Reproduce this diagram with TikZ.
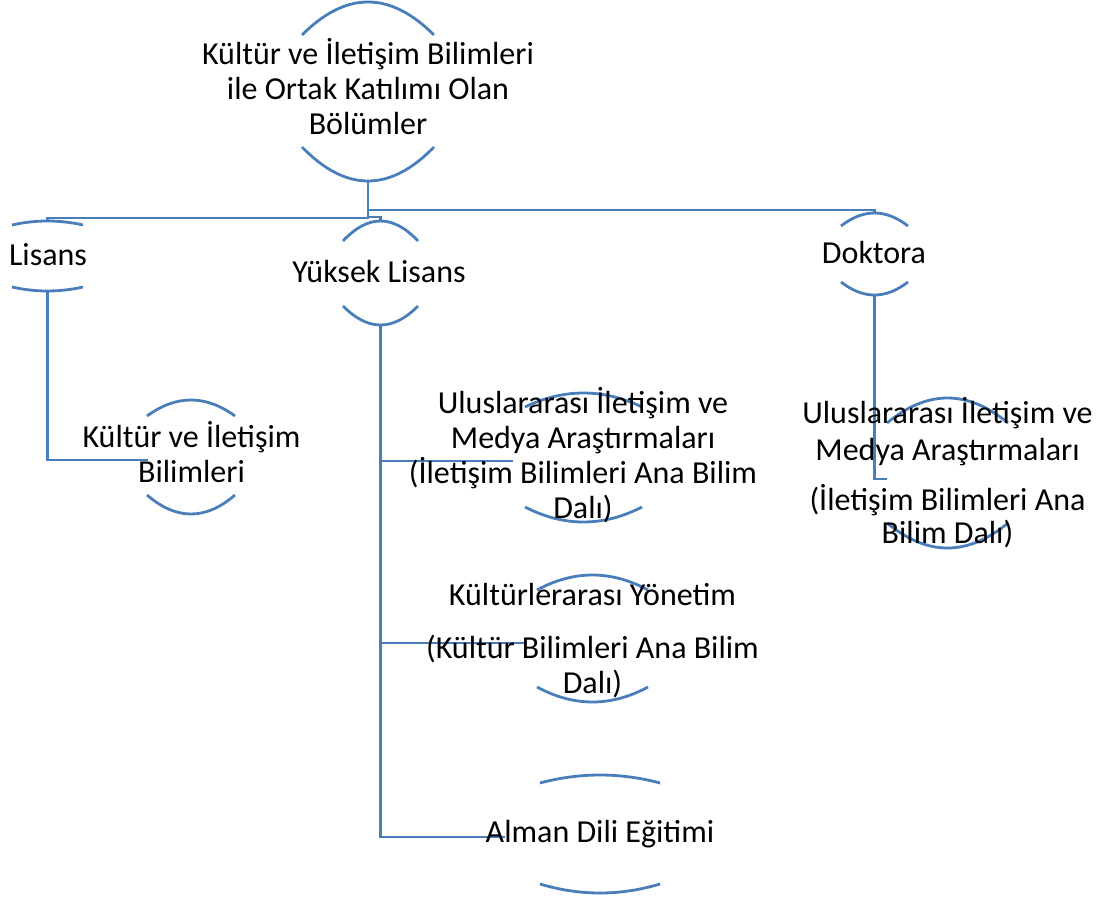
\documentclass[tikz,border=0pt]{standalone}
\usepackage{fontspec}
\setmainfont{Carlito}
\definecolor{arcblue}{RGB}{74,126,187}
\newcommand{\mlines}[1]{\vtop{\let\\\cr\baselineskip=35pt\lineskiplimit=-\maxdimen\lineskip=0pt\halign{\hfil##\hfil\cr#1\crcr}}}
% name, cx, half chord, top end y, top apex y, bottom end y, bottom low y
\newcommand{\nodearcs}[7]{%
  \draw[arcline] ({#2-#3},#4) .. controls ({#2-#3/3},{#4+4/3*(#5-#4)}) and ({#2+#3/3},{#4+4/3*(#5-#4)}) .. ({#2+#3},#4);
  \draw[arcline] ({#2-#3},#6) .. controls ({#2-#3/3},{#6+4/3*(#7-#6)}) and ({#2+#3/3},{#6+4/3*(#7-#6)}) .. ({#2+#3},#6);
  \coordinate (#1-t) at (#2,#5);
  \coordinate (#1-b) at (#2,#7);
}
\begin{document}
\begin{tikzpicture}[x=1pt,y=-1pt,
  arcline/.style={draw=arcblue,line width=2.8pt},
  conn/.style={draw=arcblue,line width=2.8pt},
  txt/.style={inner sep=0pt,anchor=base,text=black,font=\fontsize{32}{35}\selectfont}]
\useasboundingbox (0,0) rectangle (1111,899);
% arcs of the node shapes
\nodearcs{root}{368}{66}{35}{2}{147}{181}
\nodearcs{lis}{47.5}{35.5}{225}{221}{287}{291}
\nodearcs{yl}{380.5}{37.5}{241}{221}{306}{325}
\nodearcs{dok}{874.5}{33.5}{226}{213}{282}{295}
\nodearcs{kib}{191}{44}{416}{400}{495}{514}
\nodearcs{uima}{583.5}{58.5}{407}{393}{507}{522}
\nodearcs{ky}{592.5}{55.5}{590}{575}{687}{702}
\nodearcs{ade}{600}{60}{783}{775}{884}{893}
\nodearcs{duima}{947.5}{60.5}{423}{398}{523}{548}
% connector end points
\coordinate (kib-w) at (148,460);
\coordinate (uima-w) at (513,461);
\coordinate (ky-w) at (527,643);
\coordinate (ade-w) at (505,837);
\coordinate (duima-w) at (887,479);
% connectors
\draw[conn] (root-b) -- ++(0,37) -| (lis-t);
\draw[conn] (root-b) -- ++(0,36) -| (yl-t);
\draw[conn] (root-b) -- ++(0,29) -| (dok-t);
\draw[conn] (lis-b) |- (kib-w);
\draw[conn] (yl-b) |- (uima-w);
\draw[conn] (yl-b) |- (ky-w);
\draw[conn] (yl-b) |- (ade-w);
\draw[conn] (dok-b) |- (duima-w);
% texts
\node[txt] (root) at (368,65) {\mlines{Kültür ve İletişim Bilimleri\\ile Ortak Katılımı Olan\\Bölümler}};
\node[txt] (lis) at (48,265) {Lisans};
\node[txt] (yl) at (379,282) {Yüksek Lisans};
\node[txt] (dok) at (874,263) {Doktora};
\node[txt] (kib) at (191.5,447) {\mlines{Kültür ve İletişim\\Bilimleri}};
\node[txt] (uima) at (583,413) {\mlines{Uluslararası İletişim ve\\Medya Araştırmaları\\(İletişim Bilimleri Ana Bilim\\Dalı)}};
\node[txt] (ky) at (592.5,605) {\mlines{Kültürlerarası Yönetim\\\noalign{\vskip18pt}(Kültür Bilimleri Ana Bilim\\Dalı)}};
\node[txt] (ade) at (600,842) {Alman Dili Eğitimi};
\node[txt] (duima) at (947.5,423) {\mlines{Uluslararası İletişim ve\\\noalign{\vskip2pt}Medya Araştırmaları\\\noalign{\vskip15pt}(İletişim Bilimleri Ana\\\noalign{\vskip-2pt}Bilim Dalı)}};
\end{tikzpicture}
\end{document}
